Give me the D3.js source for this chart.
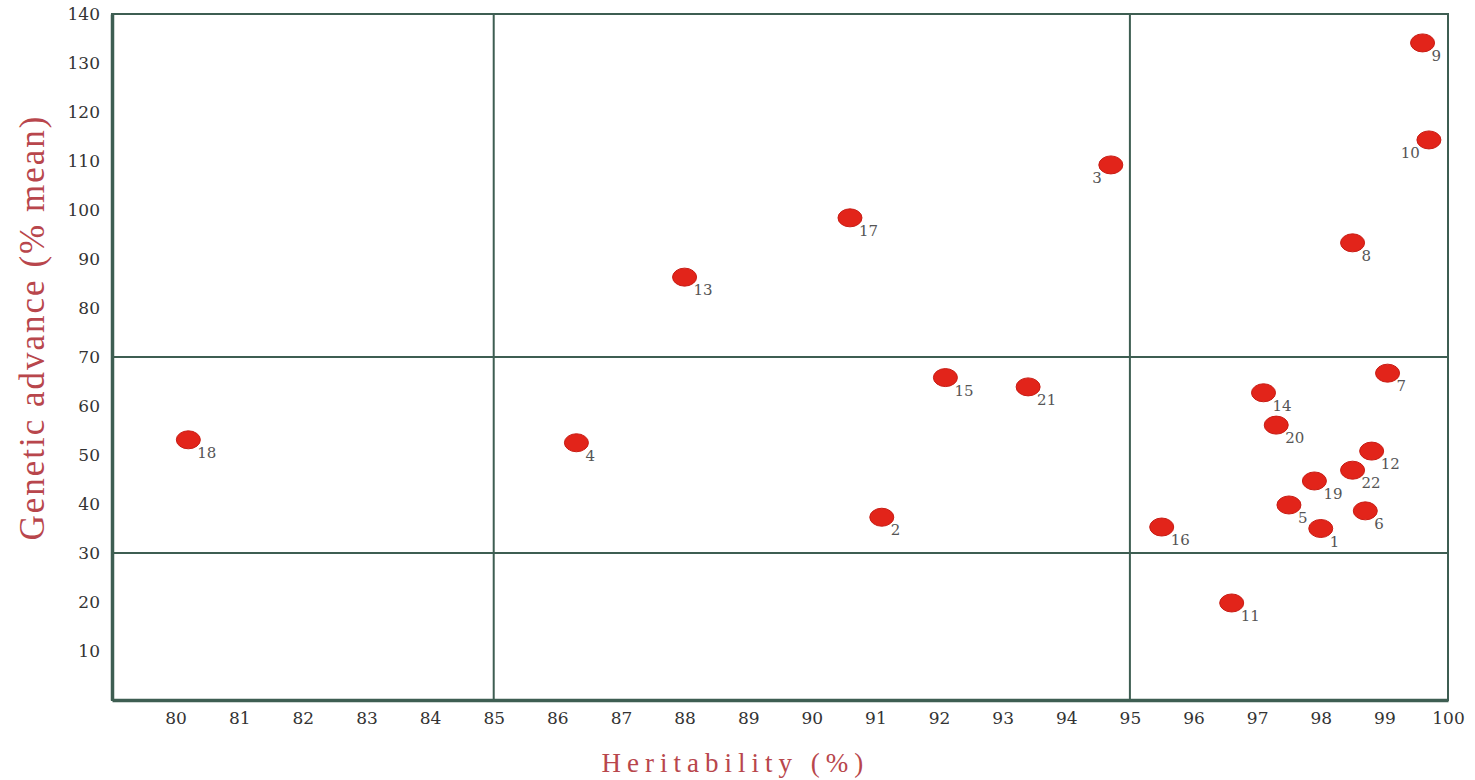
<!DOCTYPE html>
<html>
<head>
<meta charset="utf-8">
<script src="https://cdn.jsdelivr.net/npm/d3@7"></script>
<style>
  body { margin: 0; background: #fff; }
  svg { display: block; font-family: "DejaVu Serif", "Liberation Serif", serif; }
</style>
</head>
<body>
<script>
const WIDTH = 1475
const HEIGHT = 780

// genotype numbers and their heritability / genetic advance values
const genotypes = ['1', '2', '3', '4', '5', '6', '7', '8', '9', '10', '11', '12', '13', '14', '15', '16', '17', '18', '19', '20', '21', '22']
const heritability = [98.0, 91.1, 94.7, 86.3, 97.5, 98.7, 99.05, 98.5, 99.6, 99.7, 96.6, 98.8, 88.0, 97.1, 92.1, 95.5, 90.6, 80.2, 97.9, 97.3, 93.4, 98.5]
const geneticAdvance = [35.0, 37.3, 109.2, 52.5, 39.8, 38.6, 66.7, 93.3, 134.1, 114.3, 19.8, 50.8, 86.3, 62.7, 65.8, 35.3, 98.4, 53.1, 44.7, 56.1, 63.9, 46.9]
const xTicks = [80, 81, 82, 83, 84, 85, 86, 87, 88, 89, 90, 91, 92, 93, 94, 95, 96, 97, 98, 99, 100]
const yTicks = [10, 20, 30, 40, 50, 60, 70, 80, 90, 100, 110, 120, 130, 140]
const xCuts = [85, 95]
const yCuts = [30, 70]
// labels that sit to the left of their point
const leftLabels = ['3', '10']

const margin = { top: 14, right: 27, bottom: 80, left: 112 }

const svg = d3.select('body').append('svg')
  .attr('width', WIDTH)
  .attr('height', HEIGHT)

const x = d3.scaleLinear().domain([79, 100]).range([margin.left, WIDTH - margin.right])
const y = d3.scaleLinear().domain([0, 140]).range([HEIGHT - margin.bottom, margin.top])

const lineColor = '#3e5e52'
const serif = '"DejaVu Serif", "Liberation Serif", serif'

// quadrant lines
svg.append('g')
  .attr('stroke', lineColor)
  .attr('stroke-width', 2)
  .selectAll('line')
  .data(xCuts)
  .enter()
  .append('line')
  .attr('x1', d => x(d))
  .attr('x2', d => x(d))
  .attr('y1', y(0))
  .attr('y2', y(140))

svg.append('g')
  .attr('stroke', lineColor)
  .attr('stroke-width', 2)
  .selectAll('line')
  .data(yCuts)
  .enter()
  .append('line')
  .attr('x1', x(79))
  .attr('x2', x(100))
  .attr('y1', d => y(d))
  .attr('y2', d => y(d))

// frame
svg.append('rect')
  .attr('x', x(79))
  .attr('y', y(140))
  .attr('width', x(100) - x(79))
  .attr('height', y(0) - y(140))
  .attr('fill', 'none')
  .attr('stroke', lineColor)
  .attr('stroke-width', 2)

// heavier left and bottom axis lines
const xAxis = svg.append('g')
  .attr('transform', `translate(0,${y(0)})`)
  .call(d3.axisBottom(x).tickValues(xTicks).tickSize(0).tickPadding(12).tickFormat(d3.format('d')))
xAxis.select('.domain').attr('stroke', lineColor).attr('stroke-width', 3.5)
xAxis.selectAll('text')
  .attr('font-family', serif)
  .attr('font-size', 17)
  .attr('fill', '#333')

const yAxis = svg.append('g')
  .attr('transform', `translate(${x(79)},0)`)
  .call(d3.axisLeft(y).tickValues(yTicks).tickSize(0).tickPadding(12).tickFormat(d3.format('d')))
yAxis.select('.domain').attr('stroke', lineColor).attr('stroke-width', 3.5)
yAxis.selectAll('text')
  .attr('font-family', serif)
  .attr('font-size', 17)
  .attr('fill', '#333')

// points
const points = genotypes.map((g, i) => ({ id: g, h: heritability[i], ga: geneticAdvance[i] }))

svg.append('g')
  .selectAll('ellipse')
  .data(points)
  .enter()
  .append('ellipse')
  .attr('cx', d => x(d.h))
  .attr('cy', d => y(d.ga))
  .attr('rx', 12)
  .attr('ry', 9)
  .attr('fill', '#e2241a')
  .attr('stroke', '#c81c14')
  .attr('stroke-width', 1)

svg.append('g')
  .selectAll('text')
  .data(points)
  .enter()
  .append('text')
  .attr('x', d => leftLabels.includes(d.id) ? x(d.h) - 9 : x(d.h) + 9)
  .attr('y', d => y(d.ga) + 18)
  .attr('text-anchor', d => leftLabels.includes(d.id) ? 'end' : 'start')
  .attr('font-size', 15)
  .attr('fill', '#555')
  .text(d => d.id)

// axis titles
svg.append('text')
  .attr('x', x(88.8))
  .attr('y', HEIGHT - 8)
  .attr('text-anchor', 'middle')
  .attr('font-family', '"Liberation Serif", serif')
  .attr('font-size', 27)
  .attr('letter-spacing', 6)
  .attr('fill', '#b8464c')
  .text('Heritability (%)')

svg.append('text')
  .attr('transform', `translate(44,${y(76)}) rotate(-90)`)
  .attr('text-anchor', 'middle')
  .attr('font-family', '"Liberation Serif", serif')
  .attr('font-size', 35)
  .attr('letter-spacing', 2)
  .attr('fill', '#b8464c')
  .text('Genetic advance (% mean)')
</script>
</body>
</html>
